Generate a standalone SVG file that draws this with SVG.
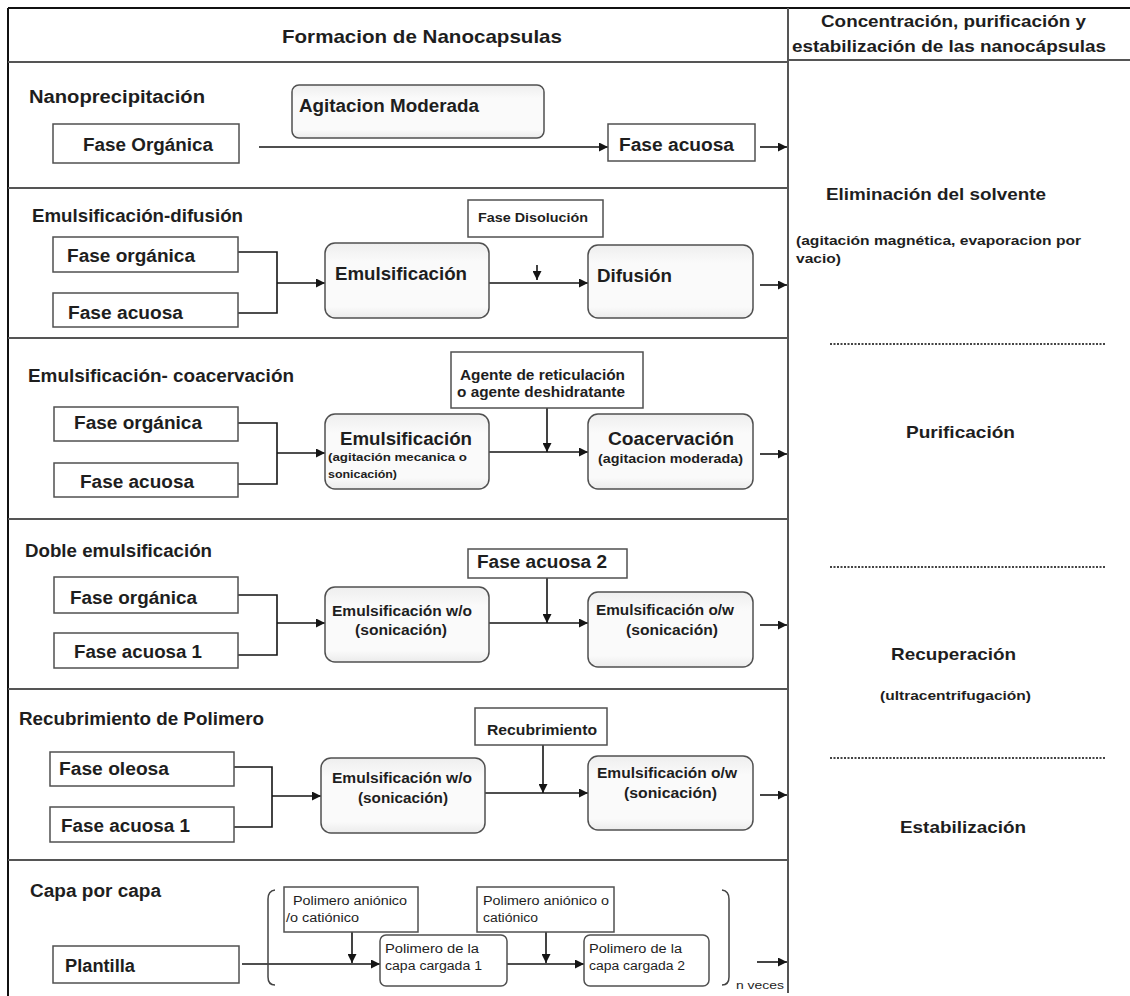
<svg xmlns="http://www.w3.org/2000/svg" width="1130" height="996" viewBox="0 0 1130 996">
<style>
.t{font-family:"Liberation Sans",Arial,sans-serif;font-weight:bold;fill:#1e1e1e}
.n{font-weight:normal}
.f18{font-size:18px}
.f17{font-size:17px}
.f14{font-size:14px}
.f13{font-size:13px}
.f12{font-size:12px}
.f11{font-size:11px}
.f10{font-size:10px}
.box{fill:#fff;stroke:#505050;stroke-width:1.5}
.rbox{fill:url(#grad);stroke:#505050;stroke-width:1.5}
.grid{stroke:#555;stroke-width:2;fill:none}
.frame{stroke:#111;stroke-width:2;fill:none}
.dot{stroke:#444;stroke-width:2;stroke-dasharray:2 1.5;fill:none}
.c{stroke:#151515;stroke-width:1.6;fill:none}
.ca{stroke:#151515;stroke-width:1.6;fill:none;marker-end:url(#ah)}
.br{stroke:#444;stroke-width:1.5;fill:none}
</style>
<defs>
<linearGradient id="grad" x1="0" y1="0" x2="0" y2="1">
<stop offset="0" stop-color="#eeeeee"/>
<stop offset="0.25" stop-color="#fafafa"/>
<stop offset="0.85" stop-color="#fafafa"/>
<stop offset="1" stop-color="#ebebeb"/>
</linearGradient>
<marker id="ah" viewBox="0 0 10 10" refX="10" refY="5" markerWidth="10" markerHeight="9" markerUnits="userSpaceOnUse" orient="auto">
<path d="M0,0 L10,5 L0,10 z" fill="#151515"/>
</marker>
</defs>
<rect x="0" y="0" width="1130" height="996" fill="#fff"/>

<g id="grid">
<line class="frame" x1="8" y1="8" x2="1130" y2="8"/>
<line class="frame" x1="8" y1="8" x2="8" y2="996"/>
<line class="grid" x1="788" y1="8" x2="788" y2="993"/>
<line class="grid" x1="8" y1="62" x2="788" y2="62"/>
<line class="grid" x1="788" y1="60" x2="1130" y2="60"/>
<line class="grid" x1="8" y1="188" x2="788" y2="188"/>
<line class="grid" x1="8" y1="338" x2="788" y2="338"/>
<line class="grid" x1="8" y1="519" x2="788" y2="519"/>
<line class="grid" x1="8" y1="689" x2="788" y2="689"/>
<line class="grid" x1="8" y1="860" x2="788" y2="860"/>
<line class="dot" x1="830" y1="344" x2="1106" y2="344"/>
<line class="dot" x1="830" y1="567" x2="1106" y2="567"/>
<line class="dot" x1="830" y1="758" x2="1106" y2="758"/>
</g>

<g id="headers">
<text class="t" x="282" y="43" font-size="19" textLength="280" lengthAdjust="spacingAndGlyphs">Formacion de Nanocapsulas</text>
<text class="t f17" x="821" y="27" textLength="265" lengthAdjust="spacingAndGlyphs">Concentración, purificación y</text>
<text class="t f17" x="792" y="52" textLength="314" lengthAdjust="spacingAndGlyphs">estabilización de las nanocápsulas</text>
</g>

<g id="right-steps">
<g id="eliminacion">
<text class="t f17" x="826" y="200" textLength="220" lengthAdjust="spacingAndGlyphs">Eliminación del solvente</text>
<text class="t f13" x="796" y="245" textLength="285" lengthAdjust="spacingAndGlyphs">(agitación magnética, evaporacion por</text>
<text class="t f13" x="796" y="263" textLength="45" lengthAdjust="spacingAndGlyphs">vacio)</text>
</g>
<g id="purificacion">
<text class="t f17" x="906" y="438" textLength="109" lengthAdjust="spacingAndGlyphs">Purificación</text>
</g>
<g id="recuperacion">
<text class="t f17" x="891" y="660" textLength="125" lengthAdjust="spacingAndGlyphs">Recuperación</text>
<text class="t f13" x="880" y="700" textLength="151" lengthAdjust="spacingAndGlyphs">(ultracentrifugación)</text>
</g>
<g id="estabilizacion">
<text class="t f17" x="900" y="833" textLength="126" lengthAdjust="spacingAndGlyphs">Estabilización</text>
</g>
</g>

<g id="section-titles">
<text class="t f18" x="29" y="103" textLength="176" lengthAdjust="spacingAndGlyphs">Nanoprecipitación</text>
<text class="t f18" x="32" y="222" textLength="211" lengthAdjust="spacingAndGlyphs">Emulsificación-difusión</text>
<text class="t f18" x="28" y="382" textLength="266" lengthAdjust="spacingAndGlyphs">Emulsificación- coacervación</text>
<text class="t f18" x="25" y="557" textLength="187" lengthAdjust="spacingAndGlyphs">Doble emulsificación</text>
<text class="t f18" x="19" y="725" textLength="245" lengthAdjust="spacingAndGlyphs">Recubrimiento de Polimero</text>
<text class="t f18" x="30" y="897" textLength="131" lengthAdjust="spacingAndGlyphs">Capa por capa</text>
</g>

<g id="connectors">
<line class="ca" x1="259" y1="147" x2="608" y2="147"/>
<line class="ca" x1="760" y1="147" x2="787" y2="147"/>

<polyline class="c" points="238,252 277,252 277,313 238,313"/>
<line class="ca" x1="277" y1="283" x2="325" y2="283"/>
<line class="ca" x1="489" y1="283" x2="588" y2="283"/>
<line class="ca" x1="537" y1="265" x2="537" y2="280"/>
<line class="ca" x1="760" y1="285" x2="787" y2="285"/>

<polyline class="c" points="238,423 277,423 277,484 238,484"/>
<line class="ca" x1="277" y1="453" x2="325" y2="453"/>
<line class="ca" x1="489" y1="452" x2="588" y2="452"/>
<line class="ca" x1="547" y1="408" x2="547" y2="452"/>
<line class="ca" x1="760" y1="454" x2="787" y2="454"/>

<polyline class="c" points="238,595 277,595 277,655 238,655"/>
<line class="ca" x1="277" y1="623" x2="325" y2="623"/>
<line class="ca" x1="489" y1="623" x2="588" y2="623"/>
<line class="ca" x1="547" y1="578" x2="547" y2="623"/>
<line class="ca" x1="760" y1="625" x2="787" y2="625"/>

<polyline class="c" points="234,767 272,767 272,827 234,827"/>
<line class="ca" x1="272" y1="796" x2="321" y2="796"/>
<line class="ca" x1="485" y1="793" x2="588" y2="793"/>
<line class="ca" x1="543" y1="745" x2="543" y2="793"/>
<line class="ca" x1="760" y1="795" x2="787" y2="795"/>

<line class="ca" x1="242" y1="964" x2="380" y2="964"/>
<line class="ca" x1="352" y1="932" x2="352" y2="963"/>
<line class="ca" x1="507" y1="964" x2="584" y2="964"/>
<line class="ca" x1="546" y1="932" x2="546" y2="963"/>
<line class="ca" x1="757" y1="962" x2="787" y2="962"/>
<path class="br" d="M275,890 Q268,891 268,899 L268,977 Q268,985 275,985"/>
<path class="br" d="M722,890 Q729,891 729,899 L729,977 Q729,985 722,985"/>
</g>

<g id="n-fase-organica-1">
<rect class="box" x="53" y="124" width="186" height="39"/>
<text class="t f18" x="83" y="151" textLength="130" lengthAdjust="spacingAndGlyphs">Fase Orgánica</text>
</g>
<g id="n-agitacion">
<rect class="rbox" x="292" y="85" width="252" height="53" rx="7"/>
<text class="t f18" x="299" y="112" textLength="180" lengthAdjust="spacingAndGlyphs">Agitacion Moderada</text>
</g>
<g id="n-fase-acuosa-1">
<rect class="box" x="608" y="124" width="147" height="37"/>
<text class="t f18" x="619" y="151" textLength="115" lengthAdjust="spacingAndGlyphs">Fase acuosa</text>
</g>

<g id="n-fase-organica-2">
<rect class="box" x="53" y="237" width="185" height="35"/>
<text class="t f18" x="67" y="262" textLength="128" lengthAdjust="spacingAndGlyphs">Fase orgánica</text>
</g>
<g id="n-fase-acuosa-2">
<rect class="box" x="53" y="293" width="185" height="34"/>
<text class="t f18" x="68" y="319" textLength="115" lengthAdjust="spacingAndGlyphs">Fase acuosa</text>
</g>
<g id="n-emulsificacion-2">
<rect class="rbox" x="325" y="243" width="164" height="75" rx="10"/>
<text class="t f18" x="335" y="280" textLength="132" lengthAdjust="spacingAndGlyphs">Emulsificación</text>
</g>
<g id="n-fase-disolucion">
<rect class="box" x="468" y="200" width="135" height="37"/>
<text class="t f13" x="478" y="222" textLength="110" lengthAdjust="spacingAndGlyphs">Fase Disolución</text>
</g>
<g id="n-difusion">
<rect class="rbox" x="588" y="245" width="165" height="73" rx="10"/>
<text class="t f18" x="597" y="282" textLength="75" lengthAdjust="spacingAndGlyphs">Difusión</text>
</g>

<g id="n-fase-organica-3">
<rect class="box" x="54" y="407" width="184" height="34"/>
<text class="t f18" x="74" y="429" textLength="128" lengthAdjust="spacingAndGlyphs">Fase orgánica</text>
</g>
<g id="n-fase-acuosa-3">
<rect class="box" x="54" y="463" width="184" height="34"/>
<text class="t f18" x="80" y="488" textLength="114" lengthAdjust="spacingAndGlyphs">Fase acuosa</text>
</g>
<g id="n-emulsificacion-3">
<rect class="rbox" x="325" y="414" width="164" height="75" rx="10"/>
<text class="t f18" x="340" y="445" textLength="132" lengthAdjust="spacingAndGlyphs">Emulsificación</text>
<text class="t f11" x="328" y="461" textLength="139" lengthAdjust="spacingAndGlyphs">(agitación mecanica o</text>
<text class="t f11" x="328" y="478" textLength="69" lengthAdjust="spacingAndGlyphs">sonicación)</text>
</g>
<g id="n-agente">
<rect class="box" x="451" y="352" width="192" height="56"/>
<text class="t f14" x="460" y="380" textLength="165" lengthAdjust="spacingAndGlyphs">Agente de reticulación</text>
<text class="t f14" x="457" y="397" textLength="168" lengthAdjust="spacingAndGlyphs">o agente deshidratante</text>
</g>
<g id="n-coacervacion">
<rect class="rbox" x="588" y="414" width="165" height="75" rx="10"/>
<text class="t f18" x="608" y="445" textLength="126" lengthAdjust="spacingAndGlyphs">Coacervación</text>
<text class="t f13" x="598" y="463" textLength="145" lengthAdjust="spacingAndGlyphs">(agitacion moderada)</text>
</g>

<g id="n-fase-organica-4">
<rect class="box" x="54" y="577" width="184" height="36"/>
<text class="t f18" x="70" y="604" textLength="127" lengthAdjust="spacingAndGlyphs">Fase orgánica</text>
</g>
<g id="n-fase-acuosa1-4">
<rect class="box" x="54" y="633" width="184" height="35"/>
<text class="t f18" x="74" y="658" textLength="128" lengthAdjust="spacingAndGlyphs">Fase acuosa 1</text>
</g>
<g id="n-emul-wo-4">
<rect class="rbox" x="325" y="587" width="164" height="75" rx="10"/>
<text class="t f14" x="332" y="616" textLength="140" lengthAdjust="spacingAndGlyphs">Emulsificación w/o</text>
<text class="t f14" x="355" y="635" textLength="92" lengthAdjust="spacingAndGlyphs">(sonicación)</text>
</g>
<g id="n-fase-acuosa2-4">
<rect class="box" x="468" y="549" width="159" height="29"/>
<text class="t f18" x="477" y="568" textLength="130" lengthAdjust="spacingAndGlyphs">Fase acuosa 2</text>
</g>
<g id="n-emul-ow-4">
<rect class="rbox" x="588" y="592" width="165" height="75" rx="10"/>
<text class="t f14" x="596" y="615" textLength="138" lengthAdjust="spacingAndGlyphs">Emulsificación o/w</text>
<text class="t f14" x="626" y="635" textLength="92" lengthAdjust="spacingAndGlyphs">(sonicación)</text>
</g>

<g id="n-fase-oleosa-5">
<rect class="box" x="50" y="752" width="184" height="34"/>
<text class="t f18" x="59" y="775" textLength="110" lengthAdjust="spacingAndGlyphs">Fase oleosa</text>
</g>
<g id="n-fase-acuosa1-5">
<rect class="box" x="50" y="807" width="184" height="35"/>
<text class="t f18" x="61" y="832" textLength="129" lengthAdjust="spacingAndGlyphs">Fase acuosa 1</text>
</g>
<g id="n-emul-wo-5">
<rect class="rbox" x="321" y="758" width="164" height="75" rx="10"/>
<text class="t f14" x="332" y="783" textLength="140" lengthAdjust="spacingAndGlyphs">Emulsificación w/o</text>
<text class="t f14" x="358" y="803" textLength="90" lengthAdjust="spacingAndGlyphs">(sonicación)</text>
</g>
<g id="n-recubrimiento-5">
<rect class="box" x="475" y="708" width="132" height="37"/>
<text class="t f14" x="487" y="735" textLength="110" lengthAdjust="spacingAndGlyphs">Recubrimiento</text>
</g>
<g id="n-emul-ow-5">
<rect class="rbox" x="588" y="756" width="165" height="74" rx="10"/>
<text class="t f14" x="597" y="778" textLength="140" lengthAdjust="spacingAndGlyphs">Emulsificación o/w</text>
<text class="t f14" x="624" y="798" textLength="93" lengthAdjust="spacingAndGlyphs">(sonicación)</text>
</g>

<g id="n-plantilla">
<rect class="box" x="53" y="946" width="186" height="37"/>
<text class="t f18" x="65" y="972" textLength="70" lengthAdjust="spacingAndGlyphs">Plantilla</text>
</g>
<g id="n-polimero-anionico-1">
<rect class="box" x="284" y="887" width="134" height="45"/>
<text class="t n f12" x="293" y="905" textLength="114" lengthAdjust="spacingAndGlyphs">Polimero aniónico</text>
<text class="t n f12" x="286" y="922" textLength="73" lengthAdjust="spacingAndGlyphs">/o catiónico</text>
</g>
<g id="n-capa-1">
<rect class="box" x="380" y="935" width="127" height="51" rx="6"/>
<text class="t n f12" x="385" y="953" textLength="94" lengthAdjust="spacingAndGlyphs">Polimero de la</text>
<text class="t n f12" x="385" y="970" textLength="97" lengthAdjust="spacingAndGlyphs">capa cargada 1</text>
</g>
<g id="n-polimero-anionico-2">
<rect class="box" x="477" y="887" width="137" height="45"/>
<text class="t n f12" x="483" y="905" textLength="126" lengthAdjust="spacingAndGlyphs">Polimero aniónico o</text>
<text class="t n f12" x="483" y="922" textLength="55" lengthAdjust="spacingAndGlyphs">catiónico</text>
</g>
<g id="n-capa-2">
<rect class="box" x="584" y="935" width="125" height="51" rx="6"/>
<text class="t n f12" x="589" y="953" textLength="93" lengthAdjust="spacingAndGlyphs">Polimero de la</text>
<text class="t n f12" x="589" y="970" textLength="96" lengthAdjust="spacingAndGlyphs">capa cargada 2</text>
</g>
<g id="n-veces">
<text class="t n f10" x="736" y="989" textLength="48" lengthAdjust="spacingAndGlyphs">n veces</text>
</g>
</svg>
